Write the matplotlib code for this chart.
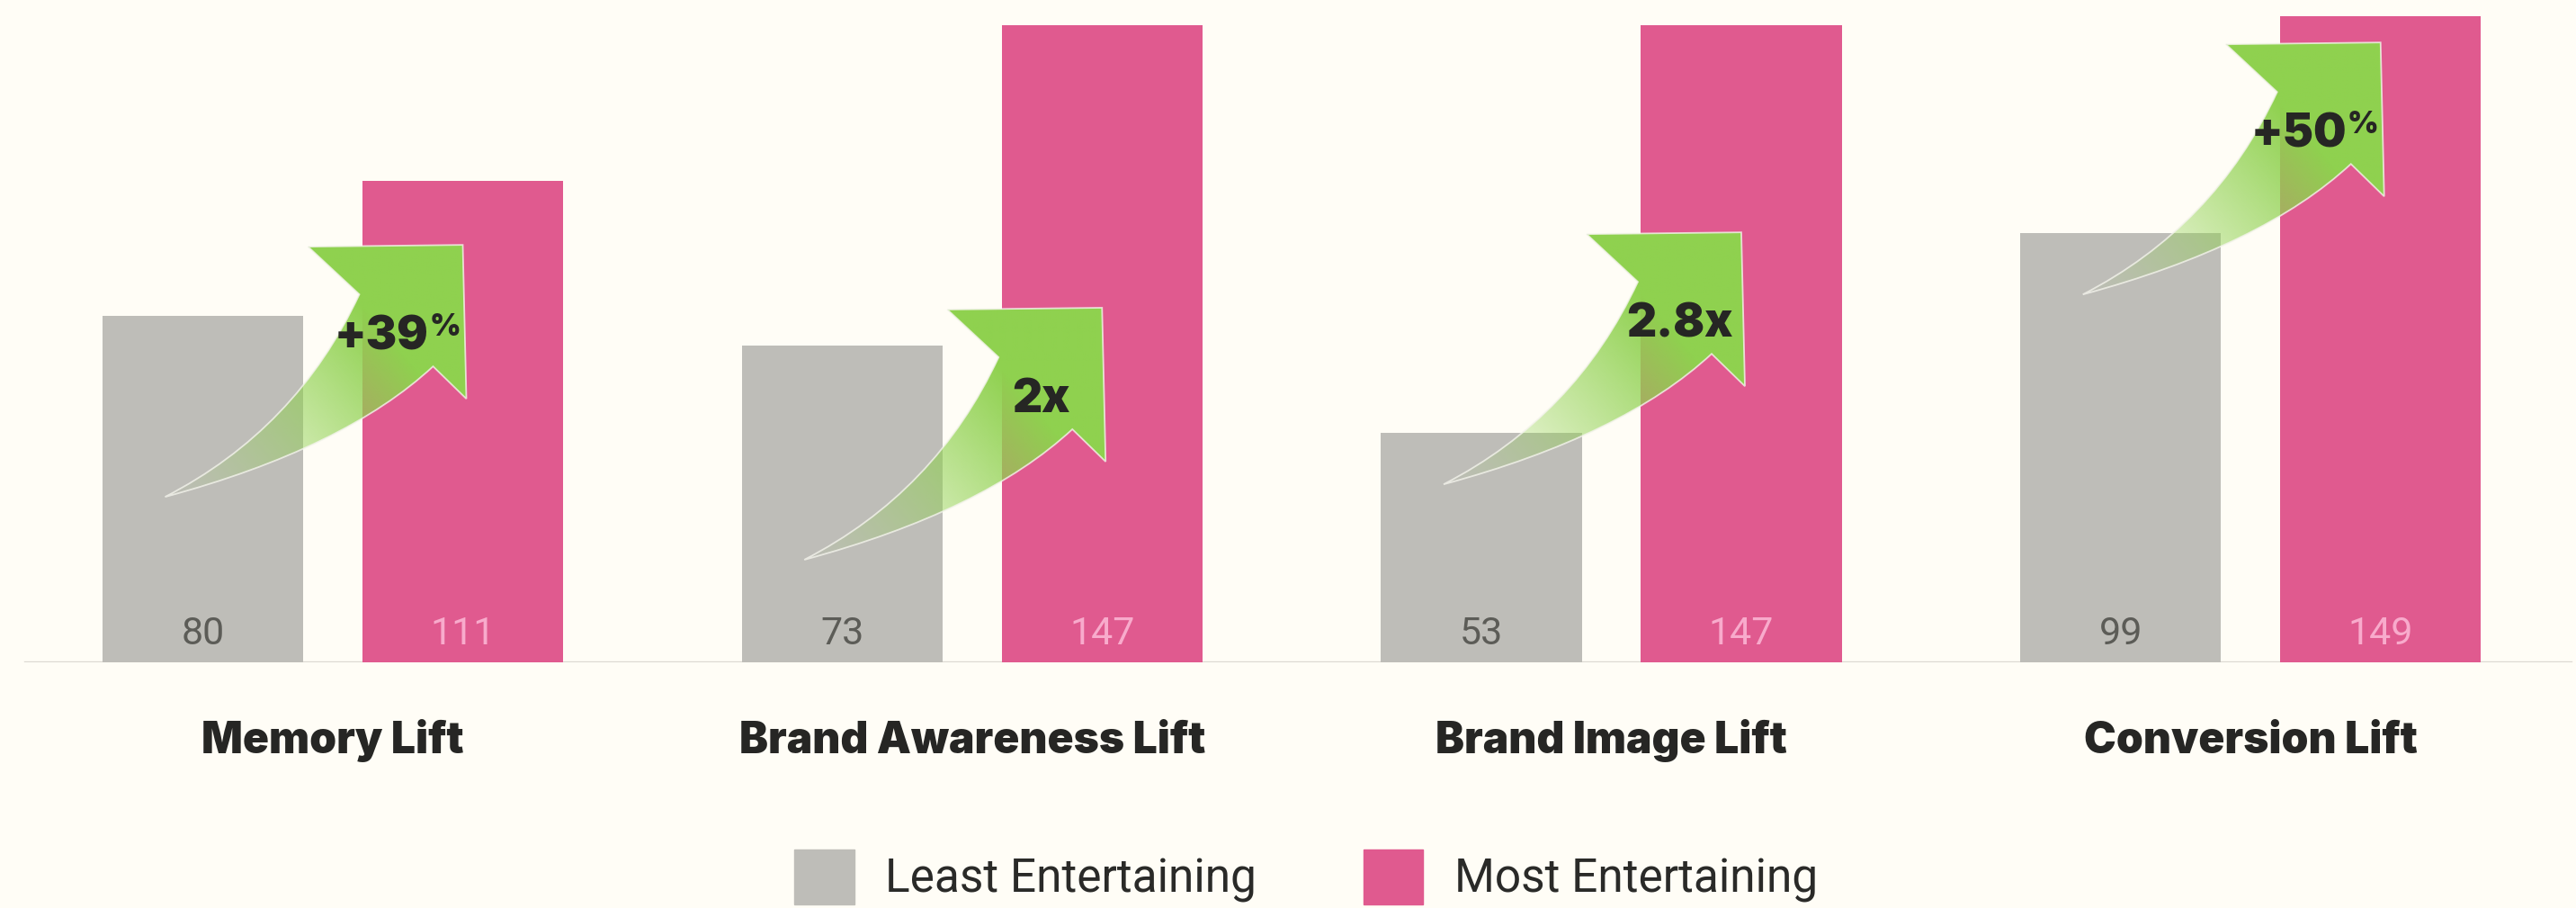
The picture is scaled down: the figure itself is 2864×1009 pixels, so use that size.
import numpy as np
import matplotlib.pyplot as plt
from matplotlib.patches import Patch, PathPatch
from matplotlib.path import Path
from matplotlib.colors import to_rgb

categories = ['Memory Lift', 'Brand Awareness Lift', 'Brand Image Lift', 'Conversion Lift']
least = [80, 73, 53, 99]
most = [111, 147, 147, 149]
series_names = ['Least Entertaining', 'Most Entertaining']
lift_text = ['+39', '2x', '2.8x', '+50']
lift_pct = [True, False, False, True]
arrow_tip = [96.3, 81.8, 99.2, 143.0]  # where each green arrow points, in chart units

BG = '#fffdf6'
GREY = '#bebdb8'
PINK = '#e05a8f'
GREEN = '#8fd14f'
INK = '#262624'

W, H, DPI = 2864, 1009, 100
fig = plt.figure(figsize=(W / DPI, H / DPI), dpi=DPI, facecolor=BG)
ax = fig.add_axes([0, 273 / H, 1, 736 / H])
ax.set_facecolor(BG)
ax.axis('off')

x = np.arange(len(categories))
off, bw = 0.2033, 0.3138
ax.bar(x - off, least, bw, color=GREY, zorder=2)
ax.bar(x + off, most, bw, color=PINK, zorder=2)
ax.axhline(0, xmin=0.0098, xmax=0.998, color='#dcd9d2', lw=2.4, zorder=1)
ax.set_xlim(-0.5206, 3.509)
ax.set_ylim(0, 152.8)

# value labels near the bottom of each bar
for xs, vals, col in [(x - off, least, '#5c5c57'), (x + off, most, '#f8abcc')]:
    for xi, v in zip(xs, vals):
        ax.annotate(str(v), (xi, 0), xytext=(0, 20), textcoords='offset pixels',
                    ha='center', va='baseline', fontsize=31, color=col,
                    family='Roboto', weight='normal', zorder=6)

for xi, name in zip(x, categories):
    ax.annotate(name, (xi, 0), xytext=(0, -101), textcoords='offset pixels',
                ha='center', va='baseline', fontsize=34.5, color=INK,
                family='Inter', weight='black', annotation_clip=False)


# curved arrow, shape in pixels relative to the tip (y pointing down)
verts = [(0, 0), (-172, 2), (-115, 55), (-185, 205), (-331, 280),
         (-131, 226), (-33, 135), (4, 171), (0, 0)]
codes = [Path.MOVETO, Path.LINETO, Path.LINETO, Path.CURVE3, Path.CURVE3,
         Path.CURVE3, Path.CURVE3, Path.LINETO, Path.CLOSEPOLY]

gx = np.linspace(-336, 8, 320)
gy = np.linspace(-4, 284, 280)
GX, GY = np.meshgrid(gx, gy)
tail = np.array([-331.0, 280.0])
vec = -tail
s = ((GX - tail[0]) * vec[0] + (GY - tail[1]) * vec[1]) / (vec @ vec)
alpha = np.clip(s / 0.7, 0, 1) ** 1.1
rgba = np.zeros(GX.shape + (4,))
rgba[..., :3] = to_rgb(GREEN)
rgba[..., 3] = alpha


def px_to_data(xd, yd, dx, dy):
    X, Y = ax.transData.transform((xd, yd))
    return ax.transData.inverted().transform((X + dx, Y - dy))


for xi, tip, txt, pct in zip(x + off, arrow_tip, lift_text, lift_pct):
    pts = [px_to_data(xi, tip, vx, vy) for vx, vy in verts]
    patch = PathPatch(Path(pts, codes), facecolor='none', edgecolor='#f4f4ec',
                      lw=1.3, alpha=0.8, zorder=4)
    ax.add_patch(patch)
    x0, y1 = px_to_data(xi, tip, gx[0], gy[-1])
    x1, y0 = px_to_data(xi, tip, gx[-1], gy[0])
    im = ax.imshow(rgba, extent=(x0, x1, y1, y0), origin='upper',
                   aspect='auto', interpolation='bilinear', zorder=3)
    im.set_clip_path(patch)
    if pct:
        ax.annotate(txt, (xi, tip), xytext=(-38, -116), textcoords='offset pixels',
                    ha='right', va='baseline', fontsize=37, color=INK,
                    family='Inter', weight='black', zorder=7)
        ax.annotate('%', (xi, tip), xytext=(-37, -101), textcoords='offset pixels',
                    ha='left', va='baseline', fontsize=24, color=INK,
                    family='Inter', weight='black', zorder=7)
    else:
        ax.annotate(txt, (xi, tip), xytext=(-68, -116), textcoords='offset pixels',
                    ha='center', va='baseline', fontsize=37, color=INK,
                    family='Inter', weight='black', zorder=7)

ax.set_xlim(-0.5206, 3.509)
ax.set_ylim(0, 152.8)

fig.legend(handles=[Patch(color=GREY), Patch(color=PINK)], labels=series_names,
           loc='center', bbox_to_anchor=(0.507, 0.034), ncol=2, frameon=False,
           prop=dict(family='Roboto', weight='normal', size=37), labelcolor='#2a2a28',
           handlelength=1.30, handleheight=1.45, handletextpad=0.67,
           columnspacing=2.3, borderpad=0)

fig.savefig('out.png', dpi=DPI, facecolor=BG)
